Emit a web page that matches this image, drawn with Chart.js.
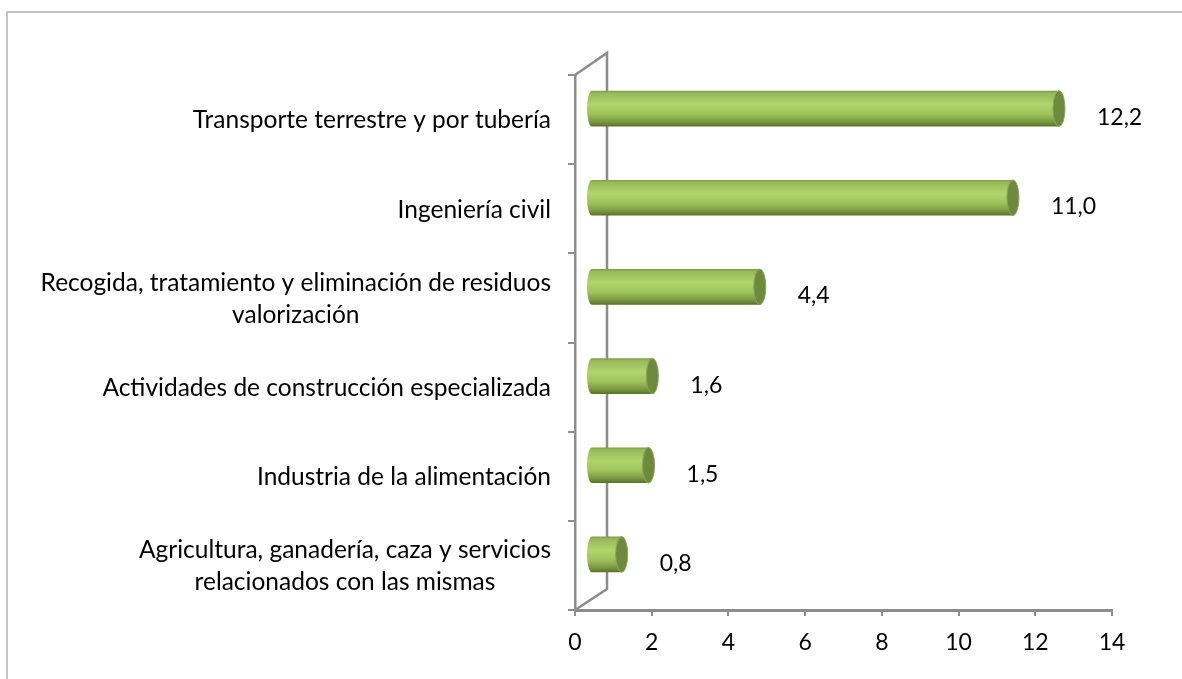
<!DOCTYPE html>
<html>
<head>
<meta charset="utf-8">
<script src="https://cdn.jsdelivr.net/npm/chart.js@4.4.1/dist/chart.umd.min.js"></script>
<style>
    body { margin: 0; background: #fff; }
    #wrap { position: relative; width: 1182px; height: 679px; overflow: hidden; }
</style>
</head>
<body>
<div id="wrap"><canvas id="chart" width="1182" height="679"></canvas></div>
<script>
// Data
const categories = [
    ['Transporte terrestre y por tubería'],
    ['Ingeniería civil'],
    ['Recogida, tratamiento y eliminación de residuos', 'valorización'],
    ['Actividades de construcción especializada'],
    ['Industria de la alimentación'],
    ['Agricultura, ganadería, caza y servicios', 'relacionados con las mismas']
];
const values = [12.2, 11.0, 4.4, 1.6, 1.5, 0.8];
const xMin = 0;
const xMax = 14;
const xStep = 2;

const FONT = 'Lato, "Open Sans", sans-serif';
const AXIS_GREY = '#8c8c8c';
// 3D depth of the plot box (back wall offset) and bar offset (half depth)
const DEPTH = { dx: 32, dy: -22 };
const BAR_SHIFT = { dx: 16, dy: -11 };

function fmt(v) {
    return v.toFixed(1).replace('.', ',');
}

function drawCylinder(ctx, x0, x1, yc, h) {
    const r = h / 2, rx = 6;
    const g = ctx.createLinearGradient(0, yc - r, 0, yc + r);
    g.addColorStop(0, '#7f9a4c');
    g.addColorStop(0.07, '#98b95a');
    g.addColorStop(0.38, '#b1d46c');
    g.addColorStop(0.65, '#a0c25c');
    g.addColorStop(0.86, '#7c9b42');
    g.addColorStop(1, '#58702b');
    ctx.save();
    ctx.fillStyle = g;
    ctx.beginPath();
    ctx.moveTo(x1, yc - r);
    ctx.lineTo(x0, yc - r);
    ctx.ellipse(x0, yc, rx - 1, r, 0, -Math.PI / 2, Math.PI / 2, true);
    ctx.lineTo(x1, yc + r);
    ctx.closePath();
    ctx.fill();
    // end cap
    ctx.beginPath();
    ctx.ellipse(x1, yc, rx, r, 0, 0, Math.PI * 2);
    ctx.fillStyle = '#6e8a3d';
    ctx.fill();
    ctx.strokeStyle = '#88a855';
    ctx.lineWidth = 1;
    ctx.stroke();
    ctx.restore();
}

const plot3d = {
    id: 'plot3d',
    beforeDraw(chart) {
        const ctx = chart.ctx;
        ctx.save();
        // outer frame of the chart object
        ctx.strokeStyle = '#c4c4c4';
        ctx.lineWidth = 2;
        ctx.strokeRect(7, 12, 1300, 800);
        ctx.restore();
    },
    beforeDatasetsDraw(chart) {
        const { ctx, chartArea: a } = chart;
        ctx.save();
        ctx.strokeStyle = AXIS_GREY;
        ctx.lineWidth = 2.5;
        ctx.beginPath();
        ctx.moveTo(a.left, a.top);
        ctx.lineTo(a.left + DEPTH.dx, a.top + DEPTH.dy);
        ctx.lineTo(a.left + DEPTH.dx, a.bottom + DEPTH.dy + 1);
        ctx.lineTo(a.left, a.bottom);
        ctx.stroke();
        ctx.restore();
    },
    afterDatasetsDraw(chart) {
        const ctx = chart.ctx;
        const meta = chart.getDatasetMeta(0);
        const yScale = chart.scales.y;
        meta.data.forEach((el, i) => {
            drawCylinder(ctx, el.base + BAR_SHIFT.dx, el.x + BAR_SHIFT.dx,
                el.y + BAR_SHIFT.dy, el.height);
            // value label
            ctx.save();
            ctx.font = '23px ' + FONT;
            ctx.fillStyle = '#000';
            ctx.textAlign = 'left';
            ctx.textBaseline = 'middle';
            ctx.fillText(fmt(values[i]), el.x + BAR_SHIFT.dx + 38, yScale.getPixelForValue(i) - 2);
            ctx.restore();
        });
    },
    afterDraw(chart) {
        // category labels: block right-aligned, lines centred inside the block
        const { ctx, chartArea: a } = chart;
        const yScale = chart.scales.y;
        ctx.save();
        ctx.font = '24.5px ' + FONT;
        ctx.fillStyle = '#000';
        ctx.textBaseline = 'middle';
        ctx.textAlign = 'center';
        const right = a.left - 24;
        const lineH = 32;
        categories.forEach((lines, i) => {
            const w = Math.max(...lines.map(l => ctx.measureText(l).width));
            const cx = right - w / 2;
            const cy = yScale.getPixelForValue(i) + 1;
            lines.forEach((l, k) => {
                ctx.fillText(l, cx, cy + (k - (lines.length - 1) / 2) * lineH);
            });
        });
        ctx.restore();
    }
};

new Chart(document.getElementById('chart'), {
    type: 'bar',
    data: {
        labels: categories.map(c => c.join(' ')),
        datasets: [{
            data: values,
            backgroundColor: 'rgba(0,0,0,0)',
            borderWidth: 0,
            barPercentage: 0.4,
            categoryPercentage: 1
        }]
    },
    options: {
        indexAxis: 'y',
        responsive: false,
        animation: false,
        devicePixelRatio: 1,
        layout: { padding: { left: 0, right: 70, top: 75, bottom: 0 } },
        plugins: {
            legend: { display: false },
            tooltip: { enabled: false }
        },
        scales: {
            x: {
                min: xMin,
                max: xMax,
                ticks: {
                    stepSize: xStep,
                    color: '#000',
                    font: { family: FONT, size: 23 },
                    padding: 13
                },
                grid: { drawOnChartArea: false, tickLength: 6, color: AXIS_GREY, lineWidth: 2 },
                border: { color: AXIS_GREY, width: 3 },
                afterFit: s => { s.height = 69; }
            },
            y: {
                ticks: { display: false },
                grid: { drawOnChartArea: false, tickLength: 7, color: AXIS_GREY, lineWidth: 2, offset: true },
                border: { color: AXIS_GREY, width: 2.5 },
                afterFit: s => { s.width = 575; }
            }
        }
    },
    plugins: [plot3d]
});
</script>
</body>
</html>
